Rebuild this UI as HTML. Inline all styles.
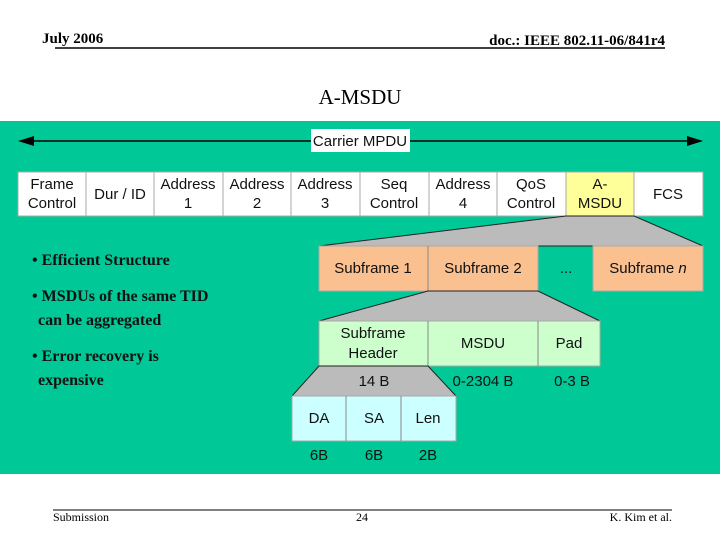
<!DOCTYPE html>
<html><head><meta charset="utf-8"><style>
html,body{margin:0;padding:0;background:#fff}
svg{display:block}
.s{font-family:"Liberation Sans",Arial,sans-serif;font-size:15px;fill:#111;text-anchor:middle}
.t{font-family:"Liberation Serif",serif;font-weight:bold;font-size:16px;fill:#111}
</style></head><body>
<svg width="720" height="540" xmlns="http://www.w3.org/2000/svg">
<text x="42" y="43" font-family="Liberation Serif" font-weight="bold" font-size="15">July 2006</text>
<text x="665" y="45" font-family="Liberation Serif" font-weight="bold" font-size="15" text-anchor="end">doc.: IEEE 802.11-06/841r4</text>
<line x1="55" y1="48" x2="665" y2="48" stroke="#000" stroke-width="1.5"/>
<text x="360" y="104" font-family="Liberation Serif" font-size="21" text-anchor="middle">A-MSDU</text>
<rect x="0" y="121" width="720" height="353" fill="#00c896"/>
<line x1="30" y1="141" x2="690" y2="141" stroke="#000" stroke-width="1.5"/>
<polygon points="18,141 34,136 34,146" fill="#000"/>
<polygon points="703,141 687,136 687,146" fill="#000"/>
<rect x="311" y="129" width="99" height="23" fill="#fff"/>
<text x="360" y="146" class="s">Carrier MPDU</text>
<g stroke="#aaa" stroke-width="1">
<rect x="18" y="172" width="548" height="44" fill="#fff"/>
<rect x="566" y="172" width="68" height="44" fill="#ffff99"/>
<rect x="634" y="172" width="69" height="44" fill="#fff"/>
<line x1="86" y1="172" x2="86" y2="216"/><line x1="154" y1="172" x2="154" y2="216"/><line x1="223" y1="172" x2="223" y2="216"/><line x1="291" y1="172" x2="291" y2="216"/><line x1="360" y1="172" x2="360" y2="216"/><line x1="429" y1="172" x2="429" y2="216"/><line x1="497" y1="172" x2="497" y2="216"/>
</g>
<g class="s">
<text x="52" y="189" class="s">Frame</text><text x="52" y="208" class="s">Control</text>
<text x="120" y="199" class="s">Dur / ID</text>
<text x="188" y="189" class="s">Address</text><text x="188" y="208" class="s">1</text>
<text x="257" y="189" class="s">Address</text><text x="257" y="208" class="s">2</text>
<text x="325" y="189" class="s">Address</text><text x="325" y="208" class="s">3</text>
<text x="394" y="189" class="s">Seq</text><text x="394" y="208" class="s">Control</text>
<text x="463" y="189" class="s">Address</text><text x="463" y="208" class="s">4</text>
<text x="531" y="189" class="s">QoS</text><text x="531" y="208" class="s">Control</text>
<text x="600" y="189" class="s">A-</text><text x="600" y="208" class="s">MSDU</text>
<text x="668" y="199" class="s">FCS</text>
</g>
<polygon points="566,216 634,216 703,246 319,246" fill="#bbb" stroke="#222" stroke-width="1"/>
<rect x="319" y="246" width="219" height="45" fill="#fac090" stroke="#aaa"/>
<line x1="428" y1="246" x2="428" y2="291" stroke="#888"/>
<rect x="593" y="246" width="110" height="45" fill="#fac090" stroke="#aaa"/>
<text x="373" y="273" class="s">Subframe 1</text>
<text x="483" y="273" class="s">Subframe 2</text>
<text x="566" y="273" class="s" font-size="12">...</text>
<text x="648" y="273" class="s">Subframe <tspan font-style="italic">n</tspan></text>
<polygon points="428,291 538,291 600,321 319,321" fill="#bbb" stroke="#222" stroke-width="1"/>
<rect x="319" y="321" width="281" height="45" fill="#ccffcc" stroke="#aaa"/>
<line x1="428" y1="321" x2="428" y2="366" stroke="#888"/><line x1="538" y1="321" x2="538" y2="366" stroke="#888"/>
<text x="373" y="338" class="s">Subframe</text><text x="373" y="358" class="s">Header</text>
<text x="483" y="348" class="s">MSDU</text>
<text x="569" y="348" class="s">Pad</text>
<polygon points="319,366 428,366 456,396 292,396" fill="#bbb" stroke="#222" stroke-width="1"/>
<text x="374" y="386" class="s">14 B</text>
<text x="483" y="386" class="s">0-2304 B</text>
<text x="572" y="386" class="s">0-3 B</text>
<rect x="292" y="396" width="164" height="45" fill="#ccffff" stroke="#aaa"/>
<line x1="346" y1="396" x2="346" y2="441" stroke="#888"/><line x1="401" y1="396" x2="401" y2="441" stroke="#888"/>
<text x="319" y="423" class="s">DA</text><text x="374" y="423" class="s">SA</text><text x="428" y="423" class="s">Len</text>
<text x="319" y="460" class="s" font-size="11">6B</text><text x="374" y="460" class="s" font-size="11">6B</text><text x="428" y="460" class="s" font-size="11">2B</text>
<text x="32" y="265" class="t">• Efficient Structure</text>
<text x="32" y="301" class="t">• MSDUs of the same TID</text>
<text x="38" y="325" class="t">can be aggregated</text>
<text x="32" y="361" class="t">• Error recovery is</text>
<text x="38" y="385" class="t">expensive</text>
<line x1="53" y1="510" x2="672" y2="510" stroke="#000" stroke-width="1"/>
<text x="53" y="521" font-family="Liberation Serif" font-size="12">Submission</text>
<text x="362" y="521" font-family="Liberation Serif" font-size="12" text-anchor="middle">24</text>
<text x="672" y="521" font-family="Liberation Serif" font-size="12" text-anchor="end">K. Kim et al.</text>
</svg>
</body></html>
